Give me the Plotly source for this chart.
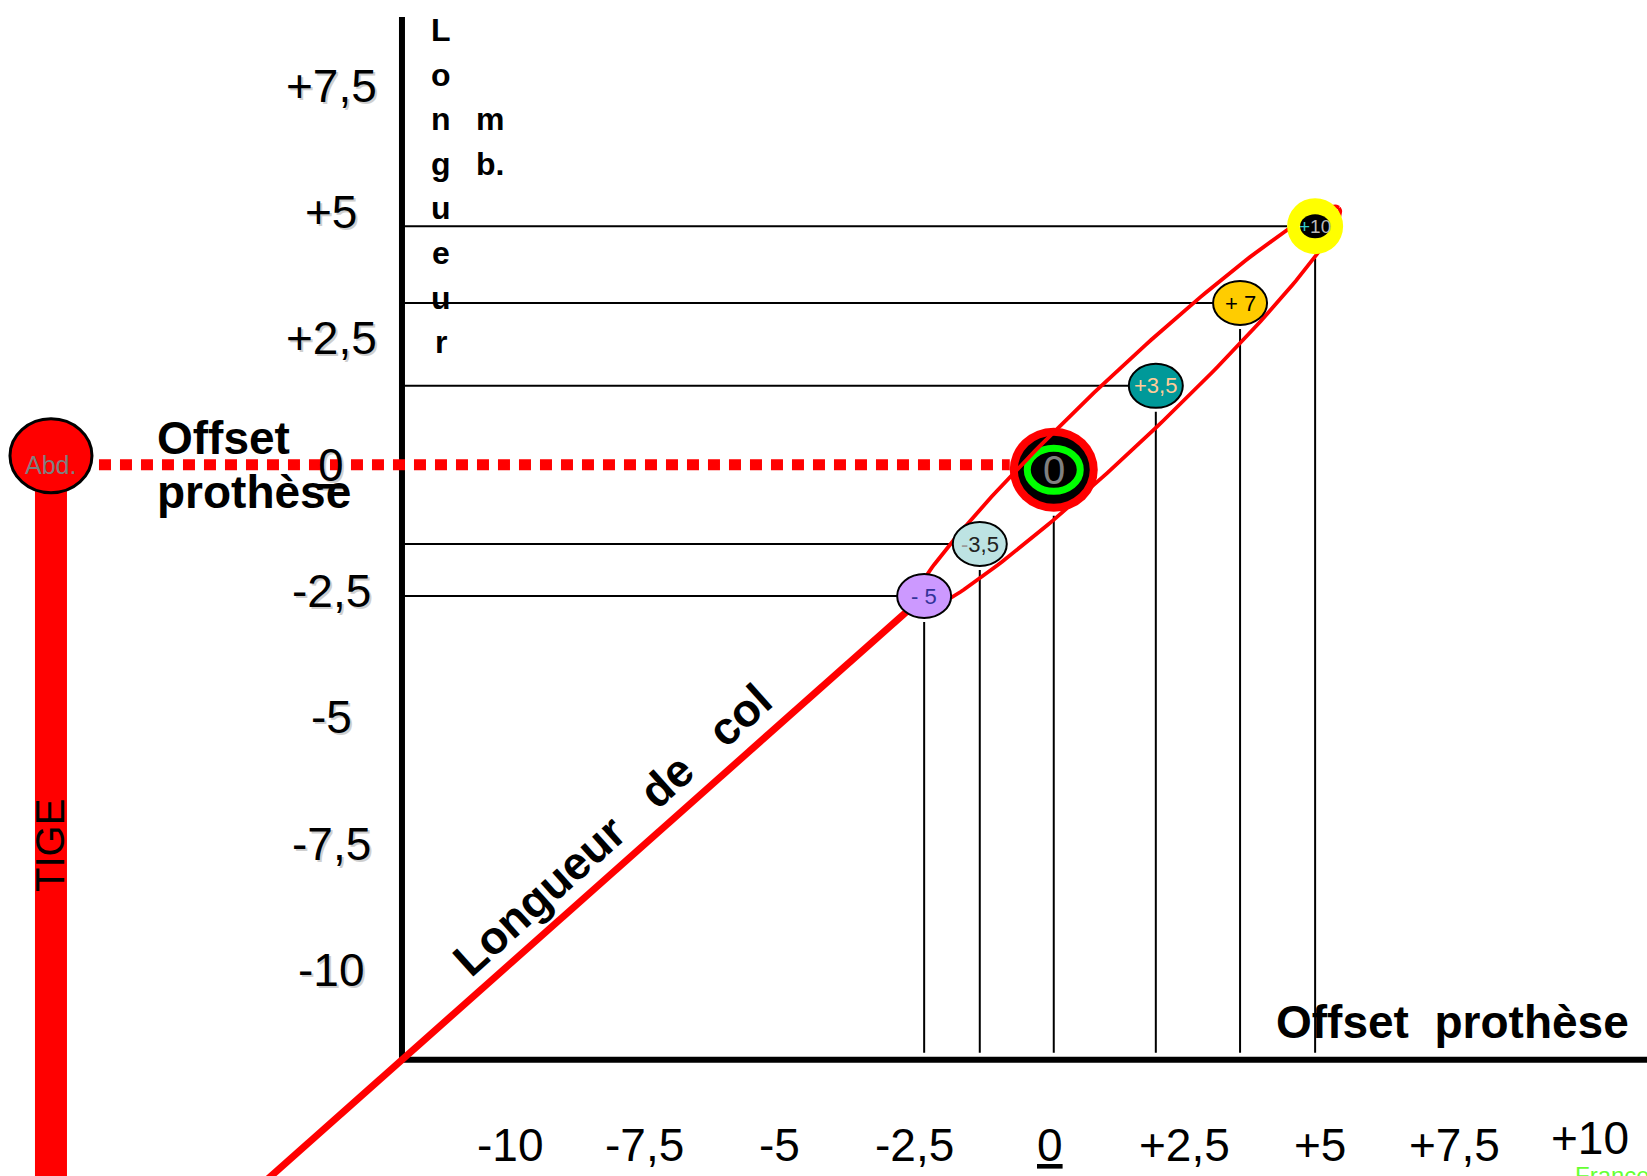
import numpy as np
import plotly.graph_objects as go

# ---------------- data ----------------
neck_labels = ["- 5", "-3,5", "0", "+3,5", "+ 7", "+10"]          # neck length variants
neck_offset = [-2.33, -1.30, 0.07, 1.96, 3.52, 4.91]               # horizontal (offset) position
neck_length = [-2.60, -1.57, -0.10, 1.56, 3.20, 4.72]              # vertical (length) position

x_tick_vals = [-10, -7.5, -5, -2.5, 0, 2.5, 5, 7.5, 10]
x_tick_text = ["-10", "-7,5", "-5", "-2,5", "<u>0</u>", "+2,5", "+5", "+7,5", "+10"]
y_tick_vals = [7.5, 5, 2.5, 0, -2.5, -5, -7.5, -10]
y_tick_text = ["+7,5", "+5", "+2,5", "<u>0</u>", "-2,5", "-5", "-7,5", "-10"]

stem_level = 0.0          # "Abd." level on the length axis

# ---------------- styles / layout ----------------
W, H = 1647, 1176
X0, X1 = -19.444, 11.056
Y0, Y1 = -14.08, 9.198
PX = W / (X1 - X0)
PY = H / (Y1 - Y0)
AX_X, AX_Y = -12.0, -11.78      # where the drawn axes cross
STEM_X = -18.5
FONT = "Liberation Sans, Arial, sans-serif"
RED = "#FF0000"

point_fill = ["#CC99FF", "#BDE3E3", "#000000", "#009999", "#FFCC00", "#FFFF00"]
point_text = ["#333399", "#222222", "#808080", "#FFCC99", "#000000", "#BBBBBB"]
point_rx = [27, 27, 44, 27, 27, 28]
point_ry = [22, 22, 42, 22, 22, 28]


def xd(px):
    return X0 + px / PX


def yd(spx):
    return Y1 - spx / PY


def ell(cx, cy, rx, ry, fill, lc, lw, layer, dy=0):
    return dict(type="circle", xref="x", yref="y", xsizemode="pixel", ysizemode="pixel",
                xanchor=cx, yanchor=cy, x0=-rx, x1=rx, y0=-ry + dy, y1=ry + dy,
                fillcolor=fill, line=dict(color=lc, width=lw), layer=layer)


def seg(xa, ya, xb, yb, color="black", width=2, dash="solid", layer="below"):
    return dict(type="line", xref="x", yref="y", x0=xa, y0=ya, x1=xb, y1=yb,
                line=dict(color=color, width=width, dash=dash), layer=layer)


shapes = []
# stem (tige)
shapes.append(seg(STEM_X, stem_level, STEM_X, Y0 - 1, color=RED, width=32))
# axes
shapes.append(seg(AX_X, AX_Y, AX_X, yd(17), width=6))
shapes.append(seg(AX_X, AX_Y, X1 + 1, AX_Y, width=6))

# projection lines
for i, (x, y) in enumerate(zip(neck_offset, neck_length)):
    shapes.append(seg(x, y - (point_ry[i] + 4) / PY, x, AX_Y + 7 / PY, width=2))
    if neck_labels[i] != "0":
        shapes.append(seg(AX_X + 3 / PX, y, x - point_rx[i] / PX, y, width=2))

# neck line (longueur de col) from the axes' corner through the shortest neck
x5, y5 = neck_offset[0], neck_length[0]
t = (Y0 - 0.6 - AX_Y) / (y5 - AX_Y)
shapes.append(seg(AX_X + t * (x5 - AX_X), Y0 - 0.6, x5, y5, color=RED, width=7))

# dotted offset line from Abd. to neck 0
i0 = neck_labels.index("0")
shapes.append(seg(STEM_X + 48 / PX, stem_level, neck_offset[i0] - 44 / PX, stem_level,
                  color=RED, width=11, dash="12px,9px"))

# Abd. head
shapes.append(ell(STEM_X, stem_level, 41, 37, RED, "black", 3, "below", dy=9))

# neck 0 target
cx0, cy0 = neck_offset[i0], neck_length[i0]
shapes.append(ell(cx0, cy0, 44, 42, RED, RED, 0, "below"))
shapes.append(ell(cx0, cy0, 36, 34, "black", "black", 0, "below"))
shapes.append(ell(cx0, cy0, 26.5, 21.5, "black", "#00FF00", 7, "below"))

# small ellipses on top
for i, (x, y) in enumerate(zip(neck_offset, neck_length)):
    lab = neck_labels[i]
    if lab == "0":
        continue
    if lab == "+10":
        shapes.append(ell(x, y, point_rx[i], point_ry[i], point_fill[i], point_fill[i], 0, "above"))
        shapes.append(ell(x, y, 15, 12, "black", "black", 0, "above"))
    else:
        shapes.append(ell(x, y, point_rx[i], point_ry[i], point_fill[i], "black", 2, "above"))

# red envelope ellipse around the neck range
u = (np.array(neck_offset) - X0) * PX
v = (np.array(neck_length) - Y0) * PY
p_lo = np.array([u[0], v[0]])
p_hi = np.array([u[-1], v[-1]])
d = (p_hi - p_lo) / np.linalg.norm(p_hi - p_lo)
n = np.array([d[1], -d[0]])
end_lo = p_lo - 21 * d
end_hi = p_hi + 30 * d
c = (end_lo + end_hi) / 2 + 3 * n
a = np.linalg.norm(end_hi - end_lo) / 2
b = 34
tt = np.linspace(0, 2 * np.pi, 240)
pts = c[:, None] + a * np.cos(tt) * d[:, None] + b * np.sin(tt) * n[:, None]
ex = pts[0] / PX + X0
ey = pts[1] / PY + Y0

fig = go.Figure()
fig.add_trace(go.Scatter(x=ex, y=ey, mode="lines", line=dict(color=RED, width=3.8),
                         hoverinfo="skip", showlegend=False))

ann = []


def txt(x, y, s, size, color="black", xanchor="center", yanchor="middle", angle=0,
        xshift=0, yshift=0):
    ann.append(dict(x=x, y=y, xref="x", yref="y", text=s, showarrow=False,
                    font=dict(family=FONT, size=size, color=color),
                    xanchor=xanchor, yanchor=yanchor, textangle=angle,
                    xshift=xshift, yshift=yshift))


for vtk, ttk in zip(x_tick_vals, x_tick_text):
    txt(vtk, yd(1145), ttk, 46, yshift=(7 if vtk == 10 else 0))
for vtk, ttk in zip(y_tick_vals, y_tick_text):
    txt(xd(331), vtk, ttk, 46, color="#CFCFCF", xshift=2, yshift=-2)   # soft shadow
    txt(xd(331), vtk, ttk, 46)

for i, ch in enumerate("Longueur"):
    txt(xd(441), yd(30 + i * 44.6), "<b>%s</b>" % ch, 32)
txt(xd(474), yd(30 + 2 * 44.6), "<b>m</b>", 32, xanchor="left")
txt(xd(474), yd(30 + 3 * 44.6), "<b>b.</b>", 32, xanchor="left")

txt(xd(155), yd(438), "<b>Offset</b>", 46, xanchor="left")
txt(xd(155), yd(492), "<b>prothèse</b>", 46, xanchor="left")
txt(xd(1274), yd(1022), "<b>Offset\u00a0\u00a0prothèse</b>", 46, xanchor="left")
txt(xd(612), yd(830), "<b>Longueur\u00a0\u00a0\u00a0de\u00a0\u00a0\u00a0col</b>", 46, angle=-42)
txt(xd(50), yd(846), "TIGE", 40, angle=-90)
txt(STEM_X, stem_level, "Abd.", 25, color="#7F7F7F")
txt(xd(1573), yd(1160), "France", 24, color="#66FF33", xanchor="left", yanchor="top")

for i, (x, y) in enumerate(zip(neck_offset, neck_length)):
    lab = neck_labels[i]
    if lab == "0":
        txt(x, y, "0", 40, color=point_text[i])
    elif lab == "+10":
        txt(x, y, "<span style='color:#33CCCC'>+</span>10", 19, color=point_text[i])
    elif lab == "-3,5":
        txt(x, y, "<span style='color:#999999'>-</span>3,5", 22, color=point_text[i])
    else:
        txt(x, y, lab, 22, color=point_text[i])

fig.update_layout(
    width=W, height=H, margin=dict(l=0, r=0, t=0, b=0),
    paper_bgcolor="white", plot_bgcolor="white",
    shapes=shapes, annotations=ann, showlegend=False, hovermode=False,
    xaxis=dict(range=[X0, X1], visible=False, fixedrange=True),
    yaxis=dict(range=[Y0, Y1], visible=False, fixedrange=True),
)

fig.write_html("out.html", config={"displayModeBar": False},
               post_script="document.body.style.margin='0';document.body.style.overflow='hidden';")
